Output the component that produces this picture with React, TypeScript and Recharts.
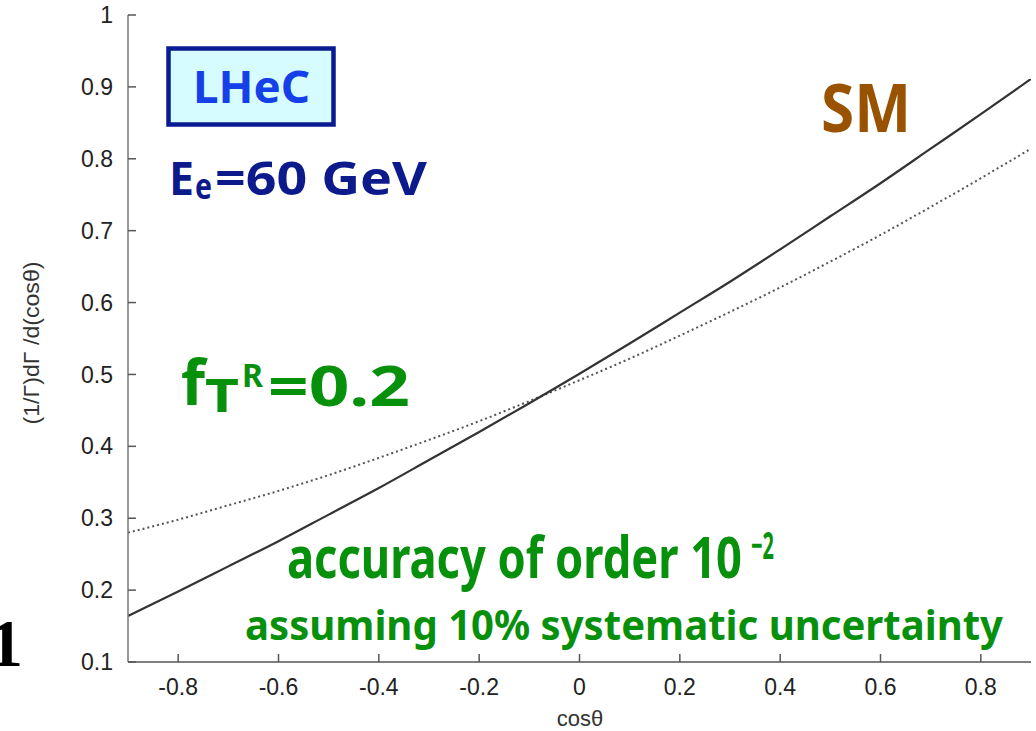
import React from "react";
import { LineChart, Line, XAxis, YAxis } from "recharts";

const cosTheta = [-0.9, -0.8, -0.7, -0.6, -0.5, -0.4, -0.3, -0.2, -0.1, 0, 0.1, 0.2, 0.3, 0.4, 0.5, 0.6, 0.7, 0.8, 0.9];
const smValues = [0.164, 0.198, 0.233, 0.268, 0.305, 0.342, 0.381, 0.42, 0.46, 0.501, 0.543, 0.586, 0.629, 0.674, 0.72, 0.766, 0.814, 0.862, 0.911];
const ftrValues = [0.28, 0.298, 0.318, 0.338, 0.36, 0.384, 0.409, 0.435, 0.463, 0.492, 0.522, 0.554, 0.587, 0.621, 0.657, 0.694, 0.733, 0.773, 0.814];
const xTicks = [-0.8, -0.6, -0.4, -0.2, 0, 0.2, 0.4, 0.6, 0.8];
const yTicks = [0.1, 0.2, 0.3, 0.4, 0.5, 0.6, 0.7, 0.8, 0.9, 1];

const data = cosTheta.map((c, i) => ({ c, sm: smValues[i], ftr: ftrValues[i] }));

const W = 1036;
const H = 731;
const tickFont = { fontFamily: "'Liberation Sans', Arial, sans-serif", fontSize: 23, fill: "#222" };
const annFont = "'Noto Sans', 'DejaVu Sans', sans-serif";
const green = "#07900c";

export default function App() {
  return (
    <div style={{ position: "absolute", left: 0, top: 0, width: W, height: H, background: "#fff" }}>
      <LineChart width={W} height={H} data={data} margin={{ top: 15, right: 5, bottom: 39, left: 68 }}>
        <XAxis
          xAxisId="b"
          dataKey="c"
          type="number"
          domain={[-0.9, 0.9]}
          ticks={xTicks}
          allowDataOverflow
          height={30}
          tickSize={-8}
          tickMargin={25}
          tick={tickFont}
          tickFormatter={(v: number) => String(v)}
          axisLine={{ stroke: "#555", strokeWidth: 1.5 }}
          tickLine={{ stroke: "#555", strokeWidth: 1.5 }}
        />
        <XAxis
          xAxisId="t"
          orientation="top"
          dataKey="c"
          type="number"
          domain={[-0.9, 0.9]}
          ticks={xTicks}
          allowDataOverflow
          height={0}
          tickSize={-8}
          tick={false}
          axisLine={{ stroke: "#777", strokeWidth: 1.5 }}
          tickLine={{ stroke: "#777", strokeWidth: 1.5 }}
        />
        <YAxis
          yAxisId="l"
          type="number"
          domain={[0.1, 1]}
          ticks={yTicks}
          allowDataOverflow
          width={60}
          tickSize={-8}
          tickMargin={23}
          tick={tickFont}
          tickFormatter={(v: number) => String(v)}
          axisLine={{ stroke: "#777", strokeWidth: 1.5 }}
          tickLine={{ stroke: "#555", strokeWidth: 1.5 }}
        />
        <YAxis
          yAxisId="r"
          orientation="right"
          type="number"
          domain={[0.1, 1]}
          ticks={yTicks}
          allowDataOverflow
          width={0}
          tickSize={-8}
          tick={false}
          axisLine={{ stroke: "#444", strokeWidth: 1.5 }}
          tickLine={{ stroke: "#444", strokeWidth: 1.5 }}
        />
        <Line
          xAxisId="b"
          yAxisId="l"
          dataKey="ftr"
          type="monotone"
          stroke="#555"
          strokeWidth={2}
          strokeDasharray="2 3"
          dot={false}
          isAnimationActive={false}
        />
        <Line
          xAxisId="b"
          yAxisId="l"
          dataKey="sm"
          type="monotone"
          stroke="#333"
          strokeWidth={2.2}
          dot={false}
          isAnimationActive={false}
        />
      </LineChart>
      <svg
        width={W}
        height={H}
        style={{ position: "absolute", left: 0, top: 0, pointerEvents: "none" }}
      >
        {/* axis titles */}
        <text
          x={0}
          y={0}
          transform="translate(39,343) rotate(-90)"
          textAnchor="middle"
          fontFamily="'Liberation Sans', Arial, sans-serif"
          fontSize={22}
          fill="#333"
          textLength={163}
          lengthAdjust="spacingAndGlyphs"
        >
          (1/Γ)dΓ /d(cosθ)
        </text>
        <text x={580} y={726} textAnchor="middle" fontFamily="'Liberation Sans', Arial, sans-serif" fontSize={22} fill="#333">
          cosθ
        </text>

        {/* LHeC box */}
        <rect x={168.5} y={48.5} width={165} height={76} fill="#d6fcff" stroke="#0a1a90" strokeWidth={4.5} />
        <text x={193} y={103} fontFamily={annFont} fontWeight={700} fontSize={45} fill="#1540e8" textLength={117} lengthAdjust="spacingAndGlyphs">
          LHeC
        </text>

        {/* E_e = 60 GeV */}
        <text x={169} y={195} fontFamily={annFont} fontWeight={700} fontSize={46} fill="#0c1a8c" textLength={25} lengthAdjust="spacingAndGlyphs">
          E
        </text>
        <text x={195} y={199} fontFamily={annFont} fontWeight={700} fontSize={35} fill="#0c1a8c" textLength={17} lengthAdjust="spacingAndGlyphs">
          e
        </text>
        <text x={215} y={195} fontFamily={annFont} fontWeight={700} fontSize={46} fill="#0c1a8c" textLength={212} lengthAdjust="spacingAndGlyphs">
          =60 GeV
        </text>

        {/* SM */}
        <text x={821} y={132} fontFamily={annFont} fontWeight={700} fontSize={66} fill="#995200" textLength={90} lengthAdjust="spacingAndGlyphs">
          SM
        </text>

        {/* f_T^R = 0.2 */}
        <text x={181} y={405} fontFamily={annFont} fontWeight={700} fontSize={62} fill={green} textLength={24} lengthAdjust="spacingAndGlyphs">
          f
        </text>
        <text x={205} y={412} fontFamily={annFont} fontWeight={700} fontSize={46} fill={green} textLength={34} lengthAdjust="spacingAndGlyphs">
          T
        </text>
        <text x={242} y={387} fontFamily={annFont} fontWeight={700} fontSize={32} fill={green} textLength={21} lengthAdjust="spacingAndGlyphs">
          R
        </text>
        <text x={268} y={406} fontFamily={annFont} fontWeight={700} fontSize={55} fill={green} textLength={142} lengthAdjust="spacingAndGlyphs">
          =0.2
        </text>

        {/* accuracy */}
        <text x={287} y={578} fontFamily={annFont} fontWeight={700} fontSize={58} fill={green} textLength={455} lengthAdjust="spacingAndGlyphs">
          accuracy of order 10
        </text>
        <text x={751} y={559} fontFamily={annFont} fontWeight={700} fontSize={38} fill={green} textLength={23} lengthAdjust="spacingAndGlyphs">
          −2
        </text>
        <text x={245} y={640} fontFamily={annFont} fontWeight={700} fontSize={41} fill={green} textLength={758} lengthAdjust="spacingAndGlyphs">
          assuming 10% systematic uncertainty
        </text>

        {/* stray label on left edge */}
        <text x={23} y={666} textAnchor="end" fontFamily="'Liberation Serif', 'DejaVu Serif', serif" fontWeight={700} fontSize={68} fill="#000">
          1
        </text>
      </svg>
    </div>
  );
}
